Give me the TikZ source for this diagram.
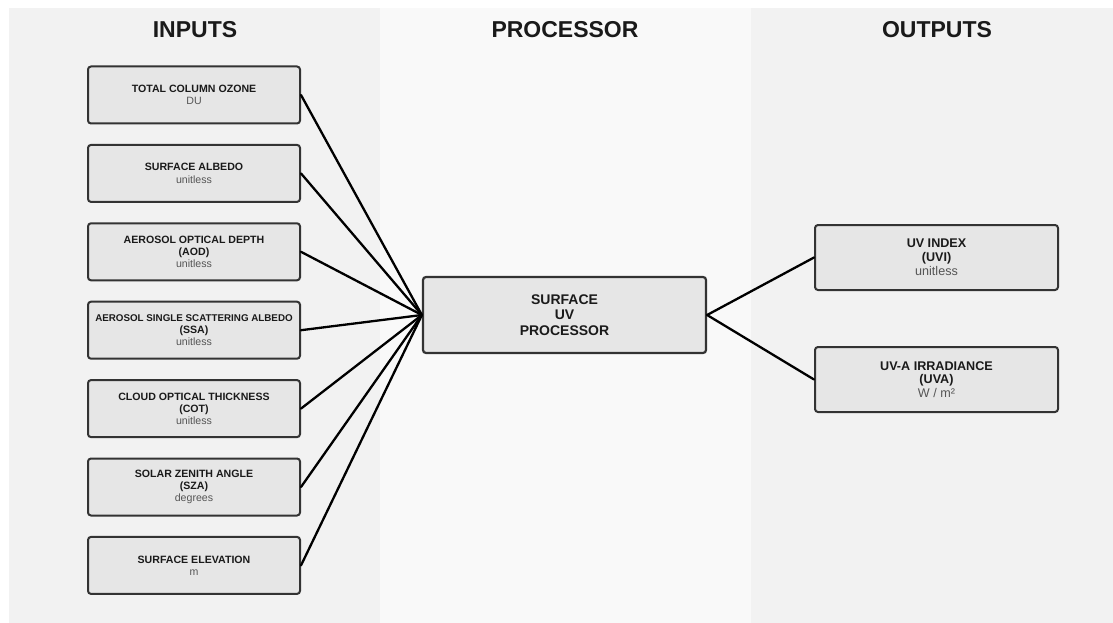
\documentclass[tikz,border=0pt]{standalone}
\usepackage{fontspec}
\setmainfont{Liberation Sans}
\definecolor{panelside}{HTML}{F2F2F2}
\definecolor{panelmid}{HTML}{F9F9F9}
\definecolor{boxfill}{HTML}{E6E6E6}
\definecolor{boxline}{HTML}{333333}
\definecolor{titletext}{HTML}{1A1A1A}
\definecolor{unittext}{HTML}{555555}
\tikzset{
  panel/.style={fill=#1, draw=none},
  coltitle/.style={font=\fontsize{23}{26}\selectfont\bfseries, text=titletext},
  inbox/.style={draw=boxline, line width=2pt, fill=boxfill, rounded corners=3pt,
    minimum width=212pt, minimum height=57pt, inner sep=0pt, align=center,
    font=\fontsize{10.6}{12.2}\selectfont},
  procbox/.style={draw=boxline, line width=2.2pt, fill=boxfill, rounded corners=3pt,
    minimum width=283pt, minimum height=76pt, inner sep=0pt, align=center,
    font=\fontsize{14}{15.5}\selectfont\bfseries, text=titletext},
  outbox/.style={draw=boxline, line width=2pt, fill=boxfill, rounded corners=3pt,
    minimum width=243pt, minimum height=65pt, inner sep=0pt, align=center,
    font=\fontsize{12.6}{13.8}\selectfont},
  link/.style={draw=black, line width=2.3pt, line cap=round}
}
\newcommand{\hd}[1]{{\bfseries\color{titletext}#1}}
\newcommand{\un}[1]{{\color{unittext}#1}}
\begin{document}
\begin{tikzpicture}[x=1pt,y=-1pt]
\useasboundingbox (0,0) rectangle (1113,623);
\fill[white] (0,0) rectangle (1113,623);
\fill[panel=panelside] (9,8) rectangle (380,623);
\fill[panel=panelmid] (380,8) rectangle (751,623);
\fill[panel=panelside] (751,8) rectangle (1113,623);

\node[coltitle] (tin) at (195,30) {INPUTS};
\node[coltitle] (tproc) at (565,30) {PROCESSOR};
\node[coltitle] (tout) at (937,30) {OUTPUTS};

\node[inbox] (i1) at (194,95) {\hd{TOTAL COLUMN OZONE}\\\un{DU}};
\node[inbox] (i2) at (194,173.4) {\hd{SURFACE ALBEDO}\\\un{unitless}};
\node[inbox] (i3) at (194,251.8) {\hd{AEROSOL OPTICAL DEPTH}\\\hd{(AOD)}\\\un{unitless}};
\node[inbox] (i4) at (194,330.2) {\hd{\fontsize{9.8}{12.2}\selectfont AEROSOL SINGLE SCATTERING ALBEDO}\\\hd{(SSA)}\\\un{unitless}};
\node[inbox] (i5) at (194,408.6) {\hd{CLOUD OPTICAL THICKNESS}\\\hd{(COT)}\\\un{unitless}};
\node[inbox] (i6) at (194,487) {\hd{SOLAR ZENITH ANGLE}\\\hd{(SZA)}\\\un{degrees}};
\node[inbox] (i7) at (194,565.4) {\hd{SURFACE ELEVATION}\\\un{m}};

\node[procbox] (proc) at (564.5,315) {SURFACE\\UV\\PROCESSOR};

\node[outbox] (o1) at (936.5,257.5) {\hd{UV INDEX}\\\hd{(UVI)}\\\un{unitless}};
\node[outbox] (o2) at (936.5,379.5) {\hd{UV-A IRRADIANCE}\\\hd{(UVA)}\\\un{W / m²}};

\foreach \n in {i1,i2,i3,i4,i5,i6,i7}
  \draw[link] (\n.east) -- (proc.west);
\draw[link] (proc.east) -- (o1.west);
\draw[link] (proc.east) -- (o2.west);
\end{tikzpicture}
\end{document}
